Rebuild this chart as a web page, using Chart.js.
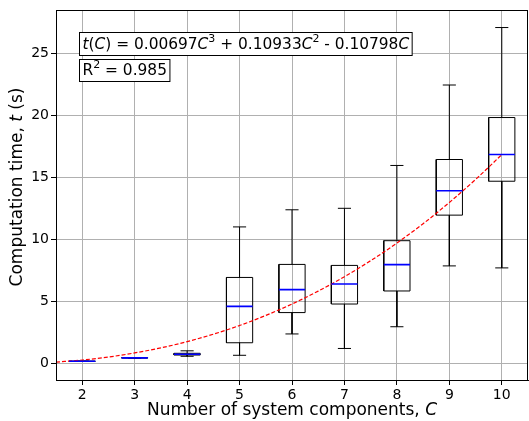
<!DOCTYPE html>
<html>
<head>
<meta charset="utf-8">
<script src="https://cdn.jsdelivr.net/npm/chart.js@4"></script>
<style>
  html, body { margin: 0; padding: 0; background: #fff; }
  #wrap { width: 529px; height: 421px; }
</style>
</head>
<body>
<div id="wrap"><canvas id="boxChart" width="529" height="421"></canvas></div>
<script>
// data
const components = [2, 3, 4, 5, 6, 7, 8, 9, 10];
const whiskerLow  = [0.16, 0.42, 0.58, 0.66, 2.38, 1.21, 2.96, 7.86, 7.70];
const q1          = [0.17, 0.44, 0.68, 1.67, 4.10, 4.79, 5.84, 11.95, 14.68];
const medians     = [0.18, 0.45, 0.74, 4.60, 5.95, 6.40, 7.96, 13.91, 16.83];
const q3          = [0.19, 0.46, 0.82, 6.93, 7.98, 7.90, 9.89, 16.43, 19.81];
const whiskerHigh = [0.20, 0.48, 1.02, 11.00, 12.38, 12.50, 15.95, 22.43, 27.06];

// fitted cubic t(C), sampled along the red dashed curve
const fitC = [1.5, 2, 2.5, 3, 3.5, 4, 4.5, 5, 5.5, 6, 6.5, 7, 7.5, 8, 8.5, 9, 9.5, 10];
const fitT = [0.11, 0.28, 0.52, 0.85, 1.26, 1.76, 2.36, 3.06, 3.87, 4.79, 5.83, 6.99, 8.28, 9.70, 11.26, 12.97, 14.82, 16.82];

const xTicks = [2, 3, 4, 5, 6, 7, 8, 9, 10];
const yTicks = [0, 5, 10, 15, 20, 25];

const FONT = "'DejaVu Sans', sans-serif";
const boxHalf = 0.25;
const capHalf = 0.125;

// build segment lists (null breaks the line)
var boxPts = [], whiskerPts = [], medianPts = [];
components.forEach(function (c, i) {
    boxPts.push({x: c - boxHalf, y: q1[i]}, {x: c + boxHalf, y: q1[i]},
                {x: c + boxHalf, y: q3[i]}, {x: c - boxHalf, y: q3[i]},
                {x: c - boxHalf, y: q1[i]}, {x: c, y: null});
    whiskerPts.push({x: c, y: q3[i]}, {x: c, y: whiskerHigh[i]}, {x: c, y: null},
                    {x: c - capHalf, y: whiskerHigh[i]}, {x: c + capHalf, y: whiskerHigh[i]}, {x: c, y: null},
                    {x: c, y: q1[i]}, {x: c, y: whiskerLow[i]}, {x: c, y: null},
                    {x: c - capHalf, y: whiskerLow[i]}, {x: c + capHalf, y: whiskerLow[i]}, {x: c, y: null});
    medianPts.push({x: c - boxHalf, y: medians[i]}, {x: c + boxHalf, y: medians[i]}, {x: c, y: null});
});
var fitPts = fitC.map(function (c, i) { return {x: c, y: fitT[i]}; });

// draw text made of runs (italic / superscript)
function drawRich(ctx, runs, x, y, size, align) {
    var parts = runs.map(function (r) {
        var s = r.sup ? Math.round(size * 0.7) : size;
        var f = (r.i ? 'italic ' : '') + s + 'px ' + FONT;
        ctx.font = f;
        return {t: r.t, f: f, w: ctx.measureText(r.t).width, dy: r.sup ? -size * 0.38 : 0};
    });
    var total = parts.reduce(function (a, p) { return a + p.w; }, 0);
    var cx = align === 'center' ? x - total / 2 : x;
    ctx.textAlign = 'left';
    ctx.textBaseline = 'middle';
    parts.forEach(function (p) {
        ctx.font = p.f;
        ctx.fillText(p.t, cx, y + p.dy);
        cx += p.w;
    });
    return total;
}

const textPlugin = {
    id: 'textPlugin',
    afterDraw: function (chart) {
        var ctx = chart.ctx, a = chart.chartArea;
        ctx.save();
        // frame
        ctx.strokeStyle = '#000';
        ctx.lineWidth = 1;
        ctx.strokeRect(Math.round(a.left) + 0.5, Math.round(a.top) + 0.5,
                       Math.round(a.right - a.left) - 1, Math.round(a.bottom - a.top));
        ctx.fillStyle = '#000';

        // axis titles
        drawRich(ctx, [{t: 'Number of system components, '}, {t: 'C', i: true}],
                 (a.left + a.right) / 2, 411, 17, 'center');
        ctx.save();
        ctx.translate(17.5, 187);
        ctx.rotate(-Math.PI / 2);
        drawRich(ctx, [{t: 'Computation time, '}, {t: 't', i: true}, {t: ' (s)'}], 0, 0, 17, 'center');
        ctx.restore();

        // annotation boxes
        var eq = [{t: 't', i: true}, {t: '('}, {t: 'C', i: true}, {t: ') = 0.00697'},
                  {t: 'C', i: true}, {t: '3', sup: true}, {t: ' + 0.10933'},
                  {t: 'C', i: true}, {t: '2', sup: true}, {t: ' - 0.10798'}, {t: 'C', i: true}];
        var r2 = [{t: 'R'}, {t: '2', sup: true}, {t: ' = 0.985'}];
        var fs = 15.4;
        [[eq, 32, 55], [r2, 59, 81]].forEach(function (b) {
            var w = drawRich(ctx, b[0], -9999, 0, fs, 'left');
            ctx.fillStyle = '#fff';
            ctx.fillRect(79.5, b[1] + 0.5, w + 6, b[2] - b[1]);
            ctx.strokeStyle = '#000';
            ctx.strokeRect(79.5, b[1] + 0.5, w + 6, b[2] - b[1]);
            ctx.fillStyle = '#000';
            drawRich(ctx, b[0], 82.5, (b[1] + b[2]) / 2 + 1, fs, 'left');
        });
        ctx.restore();
    }
};

function createBoxChart() {
    var ctx = document.getElementById('boxChart').getContext('2d');

    var data = {
        datasets: [
            { label: 'median', data: medianPts, borderColor: '#0000ff', borderWidth: 1.6,
              pointRadius: 0, spanGaps: false, tension: 0, order: 0 },
            { label: 'fit', data: fitPts, borderColor: '#ff0000', borderWidth: 1.2, borderDash: [4, 2],
              pointRadius: 0, cubicInterpolationMode: 'monotone', order: 1 },
            { label: 'box', data: boxPts, borderColor: '#000', borderWidth: 1,
              pointRadius: 0, spanGaps: false, tension: 0, order: 2 },
            { label: 'whisker', data: whiskerPts, borderColor: '#000', borderWidth: 1,
              pointRadius: 0, spanGaps: false, tension: 0, order: 3 }
        ]
    };

    var config = {
        type: 'line',
        data: data,
        options: {
            responsive: false,
            animation: false,
            layout: { padding: { top: 5, right: 1, left: 0, bottom: 0 } },
            plugins: { legend: { display: false }, tooltip: { enabled: false } },
            scales: {
                x: {
                    type: 'linear', min: 1.5, max: 10.5,
                    afterBuildTicks: function (s) { s.ticks = xTicks.map(function (v) { return {value: v}; }); },
                    afterFit: function (s) { s.height = 41; },
                    grid: { color: '#b0b0b0', lineWidth: 1, tickLength: 5, tickColor: '#000' },
                    border: { color: '#000', width: 1 },
                    ticks: { color: '#000', font: { family: FONT, size: 14 }, padding: 2, maxRotation: 0 }
                },
                y: {
                    type: 'linear', min: -1.33, max: 28.44,
                    afterBuildTicks: function (s) { s.ticks = yTicks.map(function (v) { return {value: v}; }); },
                    afterFit: function (s) { s.width = 56; },
                    grid: { color: '#b0b0b0', lineWidth: 1, tickLength: 5, tickColor: '#000' },
                    border: { color: '#000', width: 1 },
                    ticks: { color: '#000', font: { family: FONT, size: 14 }, padding: 2 }
                }
            }
        },
        plugins: [textPlugin]
    };

    new Chart(ctx, config);
}

createBoxChart();
</script>
</body>
</html>
